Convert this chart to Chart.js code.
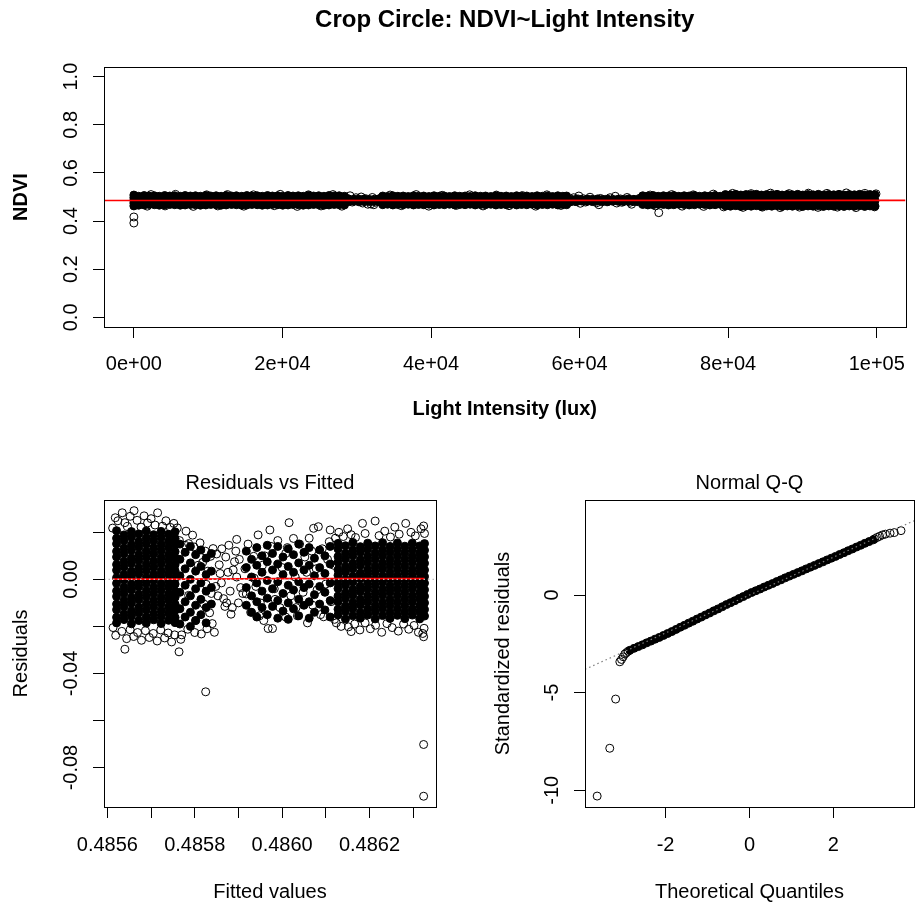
<!DOCTYPE html>
<html>
<head>
<meta charset="utf-8">
<title>Crop Circle: NDVI~Light Intensity</title>
<script src="https://cdn.jsdelivr.net/npm/chart.js@4.4.1/dist/chart.umd.min.js"></script>
<style>
html, body { margin: 0; padding: 0; background: #fff; }
#wrap { position: relative; width: 919px; height: 905px; }
canvas { position: absolute; }
</style>
</head>
<body>
<div id="wrap">
<canvas id="fitChart" width="919" height="440" style="left:0px;top:0px"></canvas>
<canvas id="residChart" width="460" height="465" style="left:0px;top:440px"></canvas>
<canvas id="qqChart" width="459" height="465" style="left:460px;top:440px"></canvas>
</div>
<script>
const FONT = "'Liberation Sans', Arial, Helvetica, sans-serif";

// ---- panel 1: NDVI vs light intensity ----
const luxTicks = [0, 20000, 40000, 60000, 80000, 100000];
const luxTickLabels = ['0e+00', '2e+04', '4e+04', '6e+04', '8e+04', '1e+05'];
const ndviTicks = [0, 0.2, 0.4, 0.6, 0.8, 1.0];
const ndviTickLabels = ['0.0', '0.2', '0.4', '0.6', '0.8', '1.0'];

// heavily overplotted stretches of the band: lux of each column, NDVI values stacked in it
const coreLux = [
  0, 650, 1380, 2050, 2770, 3420, 4150, 4830, 5500, 6240,
  6900, 7610, 8290, 8960, 9680, 10350, 11070, 11740, 12420, 13150,
  13800, 14530, 15210, 15890, 16600, 17280, 17990, 18650, 19360, 20040,
  20750, 21420, 22130, 22800, 23510, 24190, 24880, 25590, 26260, 26970,
  27640, 28350,
  33500, 34150, 34860, 35540, 36250, 36930, 37640, 38320, 39010, 39720,
  40400, 41110, 41790, 42480, 43190, 43870, 44580, 45260, 45950, 46660,
  47340, 48050, 48730, 49420, 50130, 50810, 51520, 52200, 52890, 53600,
  54280, 54990, 55670, 56360, 57070, 57750, 58250,
  68500, 69190, 69900, 70580, 71290, 71970, 72680, 73360, 74070, 74750,
  75460, 76140, 76850, 77530, 78240, 78920, 79630, 80310, 81020, 81700,
  82410, 83090, 83800, 84480, 85190, 85870, 86580, 87260, 87970, 88650,
  89360, 90040, 90750, 91430, 92140, 92820, 93530, 94210, 94920, 95600,
  96310, 96990, 97700, 98380, 99090, 99770,
  28900, 29600, 30300, 31000, 31700, 32400, 33000,
  58900, 59600, 60300, 61000, 61700, 62400, 63100, 63800, 64500, 65200,
  65900, 66600, 67300, 68000
];
const coreNdvi = [
  [0.508, 0.497, 0.486, 0.475, 0.463], [0.503, 0.485, 0.466], [0.506, 0.486, 0.467], [0.504, 0.488, 0.469], [0.505, 0.487, 0.468],
  [0.503, 0.485, 0.466], [0.506, 0.486, 0.467], [0.504, 0.488, 0.469], [0.505, 0.487, 0.468], [0.503, 0.485, 0.466],
  [0.506, 0.486, 0.467], [0.504, 0.488, 0.469], [0.505, 0.487, 0.468], [0.503, 0.485, 0.466], [0.506, 0.486, 0.467],
  [0.504, 0.488, 0.469], [0.505, 0.487, 0.468], [0.503, 0.485, 0.466], [0.506, 0.486, 0.467], [0.504, 0.488, 0.469],
  [0.505, 0.487, 0.468], [0.503, 0.485, 0.466], [0.506, 0.486, 0.467], [0.504, 0.488, 0.469], [0.505, 0.487, 0.468],
  [0.503, 0.485, 0.466], [0.506, 0.486, 0.467], [0.504, 0.488, 0.469], [0.505, 0.487, 0.468], [0.503, 0.485, 0.466],
  [0.506, 0.486, 0.467], [0.504, 0.488, 0.469], [0.505, 0.487, 0.468], [0.503, 0.485, 0.466], [0.506, 0.486, 0.467],
  [0.504, 0.488, 0.469], [0.505, 0.487, 0.468], [0.503, 0.485, 0.466], [0.506, 0.486, 0.467], [0.504, 0.488, 0.469],
  [0.505, 0.487, 0.468], [0.503, 0.485, 0.467],
  [0.504, 0.486, 0.468], [0.502, 0.487, 0.470], [0.505, 0.485, 0.467], [0.503, 0.488, 0.469], [0.504, 0.486, 0.468],
  [0.502, 0.487, 0.470], [0.505, 0.485, 0.467], [0.503, 0.488, 0.469], [0.504, 0.486, 0.468], [0.502, 0.487, 0.470],
  [0.505, 0.485, 0.467], [0.503, 0.488, 0.469], [0.504, 0.486, 0.468], [0.502, 0.487, 0.470], [0.505, 0.485, 0.467],
  [0.503, 0.488, 0.469], [0.504, 0.486, 0.468], [0.502, 0.487, 0.470], [0.505, 0.485, 0.467], [0.503, 0.488, 0.469],
  [0.504, 0.486, 0.468], [0.502, 0.487, 0.470], [0.505, 0.485, 0.467], [0.503, 0.488, 0.469], [0.504, 0.486, 0.468],
  [0.502, 0.487, 0.470], [0.505, 0.485, 0.467], [0.503, 0.488, 0.469], [0.504, 0.486, 0.468], [0.502, 0.487, 0.470],
  [0.505, 0.485, 0.467], [0.503, 0.488, 0.469], [0.504, 0.486, 0.468], [0.502, 0.487, 0.470], [0.505, 0.485, 0.467],
  [0.503, 0.488, 0.469], [0.504, 0.486, 0.468],
  [0.505, 0.487, 0.469], [0.504, 0.486, 0.467], [0.506, 0.488, 0.468], [0.503, 0.485, 0.470], [0.505, 0.487, 0.469],
  [0.504, 0.486, 0.467], [0.506, 0.488, 0.468], [0.503, 0.485, 0.470], [0.505, 0.487, 0.469], [0.504, 0.486, 0.467],
  [0.506, 0.488, 0.468], [0.503, 0.485, 0.470], [0.505, 0.487, 0.469], [0.504, 0.486, 0.467], [0.506, 0.488, 0.468],
  [0.503, 0.485, 0.470], [0.510, 0.487, 0.463], [0.509, 0.485, 0.462], [0.511, 0.488, 0.464], [0.508, 0.486, 0.461],
  [0.510, 0.487, 0.463], [0.509, 0.485, 0.462], [0.511, 0.488, 0.464], [0.508, 0.486, 0.461], [0.510, 0.487, 0.463],
  [0.509, 0.485, 0.462], [0.511, 0.488, 0.464], [0.508, 0.486, 0.461], [0.510, 0.487, 0.463], [0.509, 0.485, 0.462],
  [0.511, 0.488, 0.464], [0.508, 0.486, 0.461], [0.510, 0.487, 0.463], [0.509, 0.485, 0.462], [0.511, 0.488, 0.464],
  [0.508, 0.486, 0.461], [0.510, 0.487, 0.463], [0.509, 0.485, 0.462], [0.511, 0.488, 0.464], [0.508, 0.486, 0.461],
  [0.510, 0.487, 0.463], [0.509, 0.485, 0.462], [0.511, 0.488, 0.464], [0.508, 0.486, 0.461], [0.510, 0.487, 0.463],
  [0.509, 0.485, 0.462],
  [0.492, 0.481], [0.490, 0.482], [0.491, 0.480], [0.492, 0.482], [0.490, 0.481], [0.491, 0.482], [0.492, 0.480],
  [0.490, 0.482], [0.491, 0.481], [0.489, 0.483], [0.491, 0.482], [0.490, 0.481], [0.492, 0.483], [0.490, 0.482],
  [0.491, 0.481], [0.489, 0.483], [0.491, 0.482], [0.490, 0.481], [0.492, 0.482], [0.490, 0.481], [0.491, 0.483]
];
// individually visible circles
const openLux = [
  0, 0,
  2300, 5600, 9800, 12600, 16100, 19700, 23500, 26800,
  1800, 4200, 8000, 11300, 14800, 18900, 22000, 25200, 28000,
  28900, 29400, 29900, 30300, 30800, 31200, 31700, 32100, 32500, 32900,
  30000, 31500, 29100, 32300, 28700, 29700, 30600, 31000, 31900, 32700, 33200,
  34500, 38000, 41500, 45200, 48800, 52300, 55600,
  36000, 39700, 43400, 47000, 50500, 54100, 57500,
  58300, 58700, 59200, 59600, 60100, 60500, 61000, 61400, 61900, 62300,
  62800, 63200, 63700, 64100, 64600, 65000, 65500, 65900, 66400, 66800,
  67300, 67700, 68100, 59900, 62600, 64800, 67000,
  58500, 59000, 59400, 59800, 60300, 60800, 61200, 61700, 62100, 62500,
  63000, 63500, 63900, 64400, 65200, 65700, 66200, 66600, 67100, 67500, 67900,
  70660,
  69500, 72400, 75300, 78000, 80600, 83100, 85700, 88200, 90800, 93300, 95900, 98400, 99900,
  70200, 73800, 76700, 79400, 82000, 84600, 87000, 89600, 92100, 94700, 97200, 99700
];
const openNdvi = [
  0.417, 0.392,
  0.510, 0.511, 0.509, 0.510, 0.509, 0.511, 0.509, 0.510,
  0.462, 0.463, 0.461, 0.463, 0.462, 0.464, 0.461, 0.463, 0.462,
  0.492, 0.479, 0.497, 0.484, 0.475, 0.493, 0.487, 0.498, 0.478, 0.490,
  0.488, 0.470, 0.505, 0.468, 0.482, 0.490, 0.500, 0.481, 0.471, 0.486, 0.495,
  0.508, 0.510, 0.507, 0.509, 0.508, 0.506, 0.509,
  0.464, 0.462, 0.465, 0.463, 0.464, 0.462, 0.465,
  0.491, 0.479, 0.497, 0.486, 0.474, 0.493, 0.483, 0.499, 0.488, 0.476,
  0.494, 0.485, 0.480, 0.497, 0.489, 0.475, 0.492, 0.484, 0.498, 0.478,
  0.490, 0.482, 0.495, 0.504, 0.468, 0.503, 0.470,
  0.485, 0.488, 0.481, 0.492, 0.487, 0.479, 0.490, 0.484, 0.482, 0.489,
  0.480, 0.490, 0.486, 0.483, 0.488, 0.478, 0.487, 0.491, 0.484, 0.487, 0.480,
  0.435,
  0.508, 0.510, 0.509, 0.512, 0.515, 0.514, 0.516, 0.514, 0.516, 0.515, 0.517, 0.515, 0.513,
  0.463, 0.462, 0.461, 0.459, 0.457, 0.458, 0.456, 0.458, 0.457, 0.458, 0.456, 0.459
];
const fitLineLux = [-4021, 103875];
const fitLineNdvi = [0.48556, 0.48636];

// ---- panel 2: residuals vs fitted ----
const fittedTicks = [0.4856, 0.4857, 0.4858, 0.4859, 0.4860, 0.4861, 0.4862, 0.4863];
const fittedTickLabels = ['0.4856', '', '0.4858', '', '0.4860', '', '0.4862', ''];
const residTicks = [-0.08, -0.06, -0.04, -0.02, 0, 0.02];
const residTickLabels = ['-0.08', '', '-0.04', '', '0.00', ''];

// fitted value of each overplotted column, and the residuals stacked in it
const coreFitted = [
  0.485621, 0.485638, 0.485655, 0.485672, 0.485689, 0.485706, 0.485723, 0.485740, 0.485755,
  0.485766, 0.485778, 0.485790, 0.485802, 0.485814, 0.485826, 0.485838,
  0.485918, 0.485930, 0.485942, 0.485954, 0.485966, 0.485978, 0.485990, 0.486002, 0.486014,
  0.486026, 0.486038, 0.486050, 0.486062, 0.486074, 0.486086, 0.486098, 0.486110,
  0.486128, 0.486145, 0.486162, 0.486179, 0.486196, 0.486213, 0.486230, 0.486247, 0.486264,
  0.486281, 0.486298, 0.486315, 0.486326
];
const coreResid = [
  [0.0207, 0.0175, 0.0151, 0.0119, 0.0095, 0.0063, 0.0039, 0.0007, -0.0017, -0.0049, -0.0073, -0.0105, -0.0129, -0.0161, -0.0185],
  [0.0189, 0.0165, 0.0133, 0.0109, 0.0077, 0.0053, 0.0021, -0.0003, -0.0035, -0.0059, -0.0091, -0.0115, -0.0147, -0.0171],
  [0.0203, 0.0179, 0.0147, 0.0123, 0.0091, 0.0067, 0.0035, 0.0011, -0.0021, -0.0045, -0.0077, -0.0101, -0.0133, -0.0157, -0.0189],
  [0.0193, 0.0161, 0.0137, 0.0105, 0.0081, 0.0049, 0.0025, -0.0007, -0.0031, -0.0063, -0.0087, -0.0119, -0.0143, -0.0175],
  [0.0206, 0.0176, 0.0150, 0.0120, 0.0094, 0.0064, 0.0038, 0.0008, -0.0018, -0.0048, -0.0074, -0.0104, -0.0130, -0.0160, -0.0186],
  [0.0190, 0.0164, 0.0134, 0.0108, 0.0078, 0.0052, 0.0022, -0.0004, -0.0034, -0.0060, -0.0090, -0.0116, -0.0146, -0.0172],
  [0.0204, 0.0178, 0.0148, 0.0122, 0.0092, 0.0066, 0.0036, 0.0010, -0.0020, -0.0046, -0.0076, -0.0102, -0.0132, -0.0158, -0.0188],
  [0.0192, 0.0162, 0.0136, 0.0106, 0.0080, 0.0050, 0.0024, -0.0006, -0.0032, -0.0062, -0.0088, -0.0118, -0.0144, -0.0174],
  [0.0202, 0.0174, 0.0148, 0.0118, 0.0092, 0.0062, 0.0036, 0.0006, -0.0020, -0.0050, -0.0076, -0.0106, -0.0132, -0.0162, -0.0184],
  [0.0150, 0.0085, 0.0015, -0.0055, -0.0125, -0.0190],
  [0.0115, 0.0045, -0.0025, -0.0095, -0.0160],
  [0.0140, 0.0070, 0.0000, -0.0070, -0.0140, -0.0200],
  [0.0105, 0.0035, -0.0040, -0.0110, -0.0175],
  [0.0125, 0.0055, -0.0015, -0.0085, -0.0150],
  [0.0090, 0.0020, -0.0050, -0.0120, -0.0185],
  [0.0110, 0.0035, -0.0035, -0.0105],
  [0.0120, 0.0050, -0.0035, -0.0110],
  [0.0085, 0.0010, -0.0070, -0.0140],
  [0.0135, 0.0060, -0.0015, -0.0095, -0.0160],
  [0.0100, 0.0030, -0.0050, -0.0120],
  [0.0145, 0.0075, -0.0005, -0.0080, -0.0150],
  [0.0110, 0.0040, -0.0040, -0.0115],
  [0.0140, 0.0065, -0.0010, -0.0090, -0.0165],
  [0.0095, 0.0020, -0.0060, -0.0135],
  [0.0130, 0.0055, -0.0025, -0.0100, -0.0170],
  [0.0105, 0.0030, -0.0045, -0.0125],
  [0.0150, 0.0070, -0.0010, -0.0085, -0.0155],
  [0.0115, 0.0040, -0.0035, -0.0110],
  [0.0135, 0.0060, -0.0020, -0.0095, -0.0165],
  [0.0090, 0.0015, -0.0065, -0.0140],
  [0.0125, 0.0050, -0.0030, -0.0105],
  [0.0100, 0.0025, -0.0055, -0.0130],
  [0.0140, 0.0065, -0.0015, -0.0090, -0.0160],
  [0.0153, 0.0129, 0.0097, 0.0073, 0.0041, 0.0017, -0.0015, -0.0039, -0.0071, -0.0095, -0.0127, -0.0151],
  [0.0143, 0.0111, 0.0087, 0.0055, 0.0031, -0.0001, -0.0025, -0.0057, -0.0081, -0.0113, -0.0137, -0.0169],
  [0.0157, 0.0125, 0.0101, 0.0069, 0.0045, 0.0013, -0.0011, -0.0043, -0.0067, -0.0099, -0.0123, -0.0155],
  [0.0139, 0.0115, 0.0083, 0.0059, 0.0027, 0.0003, -0.0029, -0.0053, -0.0085, -0.0109, -0.0141, -0.0165],
  [0.0154, 0.0128, 0.0098, 0.0072, 0.0042, 0.0016, -0.0014, -0.0040, -0.0070, -0.0096, -0.0126, -0.0152],
  [0.0142, 0.0112, 0.0086, 0.0056, 0.0030, 0.0000, -0.0026, -0.0056, -0.0082, -0.0112, -0.0138, -0.0168],
  [0.0156, 0.0126, 0.0100, 0.0070, 0.0044, 0.0014, -0.0012, -0.0042, -0.0068, -0.0098, -0.0124, -0.0154],
  [0.0140, 0.0114, 0.0084, 0.0058, 0.0028, 0.0002, -0.0028, -0.0054, -0.0084, -0.0110, -0.0140, -0.0166],
  [0.0155, 0.0127, 0.0099, 0.0071, 0.0043, 0.0015, -0.0013, -0.0041, -0.0069, -0.0097, -0.0125, -0.0153],
  [0.0141, 0.0113, 0.0085, 0.0057, 0.0029, 0.0001, -0.0027, -0.0055, -0.0083, -0.0111, -0.0139, -0.0167],
  [0.0154, 0.0126, 0.0098, 0.0072, 0.0042, 0.0016, -0.0014, -0.0040, -0.0070, -0.0096, -0.0126, -0.0152],
  [0.0142, 0.0112, 0.0086, 0.0056, 0.0030, 0.0000, -0.0026, -0.0056, -0.0082, -0.0112, -0.0138, -0.0168],
  [0.0152, 0.0124, 0.0096, 0.0068, 0.0040, 0.0012, -0.0016, -0.0044, -0.0072, -0.0100, -0.0128, -0.0156]
];
const openFitted = [
  0.485612, 0.485618, 0.485624, 0.485634, 0.485640, 0.485646, 0.485652, 0.485661, 0.485668, 0.485677,
  0.485684, 0.485692, 0.485700, 0.485709, 0.485715, 0.485726, 0.485734, 0.485744, 0.485752, 0.485760,
  0.485613, 0.485619, 0.485633, 0.485640, 0.485644, 0.485652, 0.485660, 0.485669, 0.485678, 0.485687,
  0.485696, 0.485705, 0.485714, 0.485722, 0.485731, 0.485739, 0.485747, 0.485754, 0.485764,
  0.485765, 0.485778, 0.485786, 0.485798, 0.485812, 0.485824, 0.485836, 0.485842, 0.485818, 0.485830,
  0.485826, 0.485838, 0.485821, 0.485834, 0.485840, 0.485828, 0.485845, 0.485815, 0.485800, 0.485784,
  0.485770, 0.485795, 0.485780, 0.485808, 0.485786, 0.485802, 0.485768,
  0.485850, 0.485856, 0.485861, 0.485866, 0.485871, 0.485876, 0.485881, 0.485886, 0.485891, 0.485896,
  0.485900, 0.485905, 0.485862, 0.485883, 0.485869, 0.485894, 0.485853, 0.485878, 0.485896,
  0.485848, 0.485858, 0.485873, 0.485888, 0.485902, 0.485910,
  0.485915, 0.485918, 0.485922, 0.485928, 0.485935, 0.485940, 0.485945, 0.485950, 0.485955, 0.485958,
  0.485968, 0.485972, 0.485975, 0.485978, 0.485982, 0.485990, 0.485995, 0.486000, 0.486008, 0.486012,
  0.486016, 0.486020, 0.486026, 0.486030, 0.486035, 0.486040, 0.486048, 0.486052, 0.486058, 0.486062,
  0.486070, 0.486072, 0.486078, 0.486083, 0.486088, 0.486092, 0.486095, 0.486100, 0.486108, 0.486110,
  0.486112, 0.486118, 0.486120,
  0.485936, 0.485960, 0.485984, 0.486008, 0.486032, 0.486056, 0.486080, 0.486104, 0.485948, 0.486068,
  0.486122, 0.486130, 0.486140, 0.486150, 0.486158, 0.486168, 0.486184, 0.486190, 0.486213, 0.486222,
  0.486235, 0.486248, 0.486258, 0.486268, 0.486283, 0.486295, 0.486305, 0.486318, 0.486324, 0.486326,
  0.486124, 0.486135, 0.486152, 0.486158, 0.486166, 0.486178, 0.486190, 0.486202, 0.486214, 0.486228,
  0.486240, 0.486252, 0.486266, 0.486278, 0.486290, 0.486302, 0.486312, 0.486322, 0.486324, 0.486325,
  0.485825, 0.486324, 0.486324
];
const openResid = [
  0.0218, 0.0262, 0.0249, 0.0283, 0.0241, 0.0225, 0.0268, 0.0292, 0.0251, 0.0222,
  0.0270, 0.0240, 0.0258, 0.0231, 0.0283, 0.0226, 0.0249, 0.0221, 0.0238, 0.0219,
  -0.0205, -0.0238, -0.0221, -0.0297, -0.0252, -0.0214, -0.0243, -0.0226, -0.0259, -0.0218,
  -0.0247, -0.0230, -0.0262, -0.0215, -0.0249, -0.0228, -0.0266, -0.0236, -0.0308,
  0.0165, 0.0145, 0.0152, 0.0138, 0.0155, 0.0120, 0.0098, 0.0131, 0.0072, 0.0035,
  -0.0021, -0.0060, -0.0105, -0.0142, -0.0188, -0.0210, -0.0225, -0.0232, -0.0226, -0.0212,
  -0.0236, 0.0188, 0.0205, 0.0060, -0.0068, -0.0175, -0.0255,
  0.0108, 0.0062, -0.0015, -0.0082, 0.0095, 0.0030, -0.0050, -0.0120, 0.0075, 0.0010,
  -0.0100, -0.0035, 0.0130, -0.0148, -0.0115, 0.0120, -0.0070, 0.0145, 0.0170,
  -0.0030, 0.0025, -0.0100, 0.0040, 0.0085, -0.0060,
  0.0045, -0.0062, 0.0150, -0.0140, 0.0098, -0.0030, 0.0189, -0.0100, 0.0060, -0.0175,
  -0.0209, 0.0210, 0.0140, -0.0209, -0.0040, 0.0165, -0.0120, 0.0050, -0.0160, 0.0135,
  0.0241, -0.0070, 0.0174, 0.0010, -0.0155, 0.0150, -0.0055, 0.0095, -0.0185, 0.0175,
  -0.0110, 0.0217, 0.0045, 0.0224, -0.0150, 0.0130, -0.0159, -0.0020, 0.0160, 0.0210,
  -0.0095, 0.0060, -0.0170,
  0.0005, 0.0100, -0.0085, 0.0110, -0.0120, 0.0030, -0.0045, 0.0085, -0.0155, 0.0120,
  0.0175, 0.0200, 0.0182, 0.0215, 0.0190, 0.0178, 0.0238, 0.0195, 0.0248, 0.0186,
  0.0205, 0.0180, 0.0222, 0.0192, 0.0238, 0.0200, 0.0185, 0.0215, 0.0227, 0.0195,
  -0.0185, -0.0200, -0.0202, -0.0222, -0.0190, -0.0215, -0.0185, -0.0210, -0.0195, -0.0225,
  -0.0188, -0.0205, -0.0220, -0.0190, -0.0212, -0.0196, -0.0225, -0.0230, -0.0244, -0.0208,
  -0.0478, -0.0702, -0.0922
];
const smoothFitted = [0.485612, 0.485700, 0.485800, 0.485900, 0.486000, 0.486100, 0.486200, 0.486326];
const smoothResid = [0.0001, 0.0001, 0.0001, 0.0002, 0.0003, 0.0003, 0.0003, 0.0003];
const zeroFitted = [0.4855922, 0.4863523];
const zeroResid = [0, 0];

// ---- panel 3: normal Q-Q ----
const theoTicks = [-2, 0, 2];
const theoTickLabels = ['-2', '0', '2'];
const stdTicks = [-10, -5, 0];
const stdTickLabels = ['-10', '-5', '0'];
const qqCoreTheo = [
  -2.85, -2.75, -2.65, -2.55, -2.45, -2.35, -2.25, -2.15, -2.05, -1.95,
  -1.85, -1.75, -1.65, -1.55, -1.45, -1.35, -1.25, -1.15, -1.05, -0.95,
  -0.85, -0.75, -0.65, -0.55, -0.45, -0.35, -0.25, -0.15, -0.05, 0.05,
  0.15, 0.25, 0.35, 0.45, 0.55, 0.65, 0.75, 0.85, 0.95, 1.05,
  1.15, 1.25, 1.35, 1.45, 1.55, 1.65, 1.75, 1.85, 1.95, 2.05,
  2.15, 2.25, 2.35, 2.45, 2.55, 2.65, 2.75, 2.85, 2.95
];
const qqCoreStd = [
  -2.83, -2.73, -2.64, -2.55, -2.45, -2.36, -2.26, -2.17, -2.07, -1.97,
  -1.87, -1.76, -1.65, -1.55, -1.44, -1.34, -1.23, -1.13, -1.02, -0.92,
  -0.81, -0.71, -0.60, -0.49, -0.39, -0.29, -0.18, -0.08, 0.03, 0.13,
  0.22, 0.31, 0.41, 0.50, 0.59, 0.69, 0.78, 0.88, 0.97, 1.06,
  1.15, 1.24, 1.34, 1.43, 1.52, 1.61, 1.70, 1.80, 1.89, 1.98,
  2.08, 2.17, 2.27, 2.36, 2.46, 2.55, 2.65, 2.74, 2.83
];
const qqOpenTheo = [-3.63, -3.33, -3.19, -3.09, -3.05, -3.01, -2.97, -2.93, -2.89,
  2.98, 3.04, 3.10, 3.17, 3.24, 3.35, 3.45, 3.61];
const qqOpenStd = [-10.3, -7.85, -5.33, -3.42, -3.30, -3.16, -3.02, -2.95, -2.88,
  2.88, 2.95, 3.01, 3.08, 3.12, 3.17, 3.20, 3.30];
const qqLineTheo = [-3.92, 3.92];
const qqLineStd = [-3.806, 3.806];

// ---- helpers ----
const pts = (xs, ys) => xs.map((x, i) => ({x: x, y: ys[i]}));
const colPts = (xs, cols) => xs.flatMap((x, i) => cols[i].map(y => ({x: x, y: y})));

function openSet(data) {
  return {data: data, pointRadius: 4, pointBorderWidth: 1, pointBorderColor: '#000',
    pointBackgroundColor: 'rgba(0,0,0,0)', showLine: false};
}
function solidSet(data) {
  return {data: data, pointRadius: 4, pointBorderWidth: 1, pointBorderColor: '#000',
    pointBackgroundColor: '#000', showLine: false};
}
function lineSet(data, color, width, dash) {
  return {data: data, showLine: true, pointRadius: 0, borderColor: color,
    borderWidth: width, borderDash: dash || [], fill: false};
}

const gridOpts = {drawOnChartArea: false, drawTicks: true, tickLength: 11, color: '#000', lineWidth: 1};

function xAxis(min, max, ticks, labels, title, bold, height, tickPad, titlePad) {
  return {
    type: 'linear', position: 'bottom', min: min, max: max,
    afterBuildTicks: s => { s.ticks = ticks.map(v => ({value: v})); },
    afterFit: s => { s.height = height; },
    grid: gridOpts,
    border: {display: false},
    ticks: {autoSkip: false, maxRotation: 0, minRotation: 0, padding: tickPad, color: '#000',
      font: {family: FONT, size: 20}, callback: (v, i) => labels[i]},
    title: {display: true, text: title, color: '#000',
      font: {family: FONT, size: 20, weight: bold ? 'bold' : 'normal'},
      padding: {top: 0, bottom: titlePad}}
  };
}
function yAxis(min, max, ticks, title, bold, width, titlePad) {
  return {
    type: 'linear', position: 'left', min: min, max: max,
    afterBuildTicks: s => { s.ticks = ticks.map(v => ({value: v})); },
    afterFit: s => { s.width = width; },
    grid: gridOpts,
    border: {display: false},
    ticks: {display: false},
    title: {display: true, text: title, color: '#000',
      font: {family: FONT, size: 20, weight: bold ? 'bold' : 'normal'},
      padding: {top: titlePad, bottom: 0}}
  };
}

// box, panel title and bottom-to-top y labels the way base R draws them
const rPanel = {
  id: 'rPanel',
  afterDraw(chart, args, opts) {
    const ctx = chart.ctx;
    const a = chart.chartArea;
    ctx.save();
    ctx.strokeStyle = '#000';
    ctx.lineWidth = 1;
    ctx.strokeRect(Math.round(a.left) + 0.5, Math.round(a.top) + 0.5,
      Math.round(a.right - a.left), Math.round(a.bottom - a.top));
    ctx.fillStyle = '#000';
    ctx.textAlign = 'center';
    ctx.textBaseline = 'alphabetic';
    ctx.font = opts.titleFont;
    ctx.fillText(opts.title, (a.left + a.right) / 2, opts.titleY);
    const ys = chart.scales.y;
    ctx.font = '20px ' + FONT;
    opts.yTicks.forEach((v, i) => {
      if (!opts.yLabels[i]) return;
      ctx.save();
      ctx.translate(a.left - 27, ys.getPixelForValue(v));
      ctx.rotate(-Math.PI / 2);
      ctx.fillText(opts.yLabels[i], 0, 0);
      ctx.restore();
    });
    ctx.restore();
  }
};

function baseOptions(padding, scales, panel) {
  return {
    responsive: false,
    animation: false,
    events: [],
    layout: {padding: padding},
    scales: scales,
    plugins: {legend: {display: false}, tooltip: {enabled: false}, rPanel: panel}
  };
}

new Chart(document.getElementById('fitChart'), {
  type: 'scatter',
  data: {datasets: [
    lineSet(pts(fitLineLux, fitLineNdvi), '#ff0000', 1.7),
    openSet(pts(openLux, openNdvi)),
    solidSet(colPts(coreLux, coreNdvi))
  ]},
  options: baseOptions({left: 0, top: 67, right: 2, bottom: 0}, {
    x: xAxis(-4021, 103875, luxTicks, luxTickLabels, 'Light Intensity (lux)', true, 113, 14, 18.5),
    y: yAxis(-0.04, 1.04, ndviTicks, 'NDVI', true, 104, 9)
  }, {title: 'Crop Circle: NDVI~Light Intensity', titleFont: 'bold 24px ' + FONT, titleY: 27,
      yTicks: ndviTicks, yLabels: ndviTickLabels}),
  plugins: [rPanel]
});

new Chart(document.getElementById('residChart'), {
  type: 'scatter',
  data: {datasets: [
    lineSet(pts(zeroFitted, zeroResid), '#bebebe', 1.2, [1.5, 3]),
    lineSet(pts(smoothFitted, smoothResid), '#ff0000', 1.7),
    openSet(pts(openFitted, openResid)),
    solidSet(colPts(coreFitted, coreResid))
  ]},
  options: baseOptions({left: 0, top: 60, right: 24, bottom: 0}, {
    x: xAxis(0.4855922, 0.4863523, fittedTicks, fittedTickLabels, 'Fitted values', false, 98, 15, 1),
    y: yAxis(-0.09677, 0.03374, residTicks, 'Residuals', false, 104, 9)
  }, {title: 'Residuals vs Fitted', titleFont: '20px ' + FONT, titleY: 49,
      yTicks: residTicks, yLabels: residTickLabels}),
  plugins: [rPanel]
});

new Chart(document.getElementById('qqChart'), {
  type: 'scatter',
  data: {datasets: [
    lineSet(pts(qqLineTheo, qqLineStd), '#7f7f7f', 1.2, [1.5, 3]),
    openSet(pts(qqOpenTheo, qqOpenStd)),
    solidSet(pts(qqCoreTheo, qqCoreStd))
  ]},
  options: baseOptions({left: 0, top: 60, right: 2, bottom: 0}, {
    x: xAxis(-3.92, 3.92, theoTicks, theoTickLabels, 'Theoretical Quantiles', false, 98, 15, 1),
    y: yAxis(-10.86, 4.87, stdTicks, 'Standardized residuals', false, 125, 31)
  }, {title: 'Normal Q-Q', titleFont: '20px ' + FONT, titleY: 49,
      yTicks: stdTicks, yLabels: stdTickLabels}),
  plugins: [rPanel]
});
</script>
</body>
</html>
